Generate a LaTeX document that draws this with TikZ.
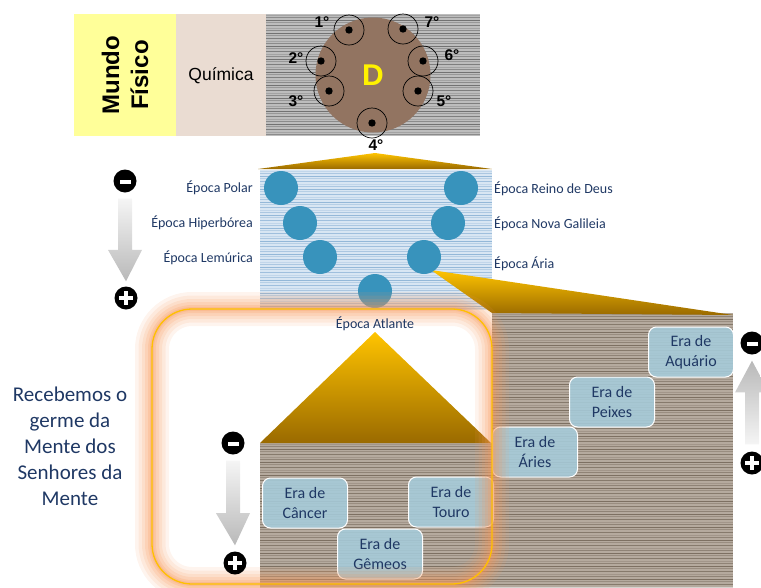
\documentclass[tikz,border=0pt]{standalone}
\usepackage{fontspec}
\setmainfont{Carlito}
\newfontfamily\arialfont{Liberation Sans}
\usetikzlibrary{
  calc,
  positioning
}

\definecolor{navy}{HTML}{1F3864}
\definecolor{epocablue}{HTML}{3893BC}
\definecolor{erafill}{HTML}{A6CCDB}
\definecolor{mundoyellow}{HTML}{FFFF99}
\definecolor{quimicabg}{HTML}{EADCD2}
\definecolor{dbrown}{HTML}{927461}
\definecolor{goldtop}{HTML}{FFC400}
\definecolor{goldbot}{HTML}{9A6A00}
\definecolor{glow}{HTML}{F7985A}
\definecolor{glowline}{HTML}{FFC000}
\definecolor{graybase}{HTML}{BDBDBD}
\definecolor{grayline}{HTML}{6A6A6A}
\definecolor{bluebase}{HTML}{D8E6F3}
\definecolor{blueline}{HTML}{8DB3D6}
\definecolor{brownbase}{HTML}{B5AA9E}
\definecolor{brownline}{HTML}{776A5C}

% striped panel: x1 y1 x2 y2 base line
\newcommand\listras[6]{%
  \fill[#5] (#1,#2) rectangle (#3,#4);
  \begin{scope}
    \clip (#1,#2) rectangle (#3,#4);
    \foreach \i [evaluate=\i as \op using {0.3+0.15*mod(\i*7,5)}] in {0,...,110}
      \draw[#6, line width=1pt, opacity=\op] (#1,{#2+1+2.6*\i}) -- (#3,{#2+1+2.6*\i});
  \end{scope}}

% block arrow from one sign to the other
\newcommand\setabloco[3][]{%
  \path[#1] let \p1=(#2), \p2=(#3), \n1={\y1+0.62*(\y2-\y1)} in
    ({\x1-7pt},\y1) -- ({\x1+7pt},\y1) -- ({\x1+7pt},{\n1*1pt})
    -- ({\x1+17pt},{\n1*1pt}) -- (\x2,\y2) -- ({\x1-17pt},{\n1*1pt})
    -- ({\x1-7pt},{\n1*1pt}) -- cycle;}

\tikzset{
  epoca/.style = {circle, fill=epocablue, minimum size=34pt, inner sep=0pt},
  epocalabel/.style = {text=navy, font=\fontsize{14}{16}\selectfont, inner sep=0pt},
  era/.style = {rounded corners=8pt, fill=erafill, fill opacity=.88, text opacity=1,
    draw=white, line width=1pt, minimum width=85pt, minimum height=50pt,
    align=center, text=navy, font=\fontsize{16}{20}\selectfont},
  grau/.style = {circle, draw=black, line width=.7pt, minimum size=30pt, inner sep=0pt},
  grautext/.style = {font=\arialfont\bfseries\fontsize{15.5}{15}\selectfont, inner sep=0pt},
  sinal/.style = {circle, fill=black, minimum size=23pt, inner sep=0pt},
  sinalmenos/.style = {sinal, path picture={
    \fill[white] ([xshift=-5.5pt,yshift=-3pt]path picture bounding box.center)
      rectangle ([xshift=5.5pt,yshift=1pt]path picture bounding box.center);}},
  sinalmais/.style = {sinal, path picture={
    \fill[white] ([xshift=-7pt,yshift=-2pt]path picture bounding box.center)
      rectangle ([xshift=7pt,yshift=2pt]path picture bounding box.center);
    \fill[white] ([xshift=-2pt,yshift=-7pt]path picture bounding box.center)
      rectangle ([xshift=2pt,yshift=7pt]path picture bounding box.center);}},
  ouro/.style = {top color=goldtop, bottom color=goldbot},
  setadesce/.style = {top color=gray!8, bottom color=gray!55},
  setasobe/.style = {top color=gray!55, bottom color=gray!8}
}

\begin{document}
\begin{tikzpicture}[x=1pt, y=-1pt]
  \useasboundingbox (0,0) rectangle (761,587);

  % mundo fisico band
  \fill[mundoyellow] (74,14) rectangle (176,136);
  \fill[quimicabg] (176,14) rectangle (266,136);
  \listras{266}{14}{480}{136}{graybase}{grayline}
  \node[rotate=90, align=center, font=\arialfont\bfseries\fontsize{24}{29}\selectfont]
    (mundo) at (125,75) {Mundo\\Físico};
  \node[font=\arialfont\fontsize{17.5}{20}\selectfont] (quimica) at (221,76) {Química};

  \node[circle, fill=dbrown, minimum size=115pt, inner sep=0pt, text=yellow,
    font=\arialfont\bfseries\fontsize{30}{30}\selectfont] (dcirculo) at (373,75) {D};

  \foreach \n/\gx/\gy/\lx/\ly in {1/349/30/322/22, 2/321/61/296/58, 3/329/91/296/101,
      4/372/123/376/145, 5/418/91/444/101, 6/423/61/452/55, 7/403/29/432/22} {
    \node[grau] (g\n) at (\gx,\gy) {};
    \fill (g\n) circle (3.7);
    \node[grautext] (lg\n) at (\lx,\ly) {\n°};
  }

  % funnel from the 4th
  \shade[ouro] (375,153) -- (492,169) -- (258,169) -- cycle;

  % eras panel behind
  \listras{492}{313}{733}{587}{brownbase}{brownline}

  % epocas
  \listras{260}{170}{492}{310}{bluebase}{blueline}
  \shade[ouro] (431,270) -- (733,315) -- (492,313) -- cycle;

  \node[epoca] (polar) at (281,188) {};
  \node[epoca] (hiperborea) at (300,223) {};
  \node[epoca] (lemurica) at (320,257) {};
  \node[epoca] (atlante) at (375,291) {};
  \node[epoca] (aria) at (424,257) {};
  \node[epoca] (galileia) at (448,223) {};
  \node[epoca] (reino) at (461,188) {};

  \node[epocalabel, anchor=east] (lpolar) at (253,188) {Época Polar};
  \node[epocalabel, anchor=east] (lhiperborea) at (253,223) {Época Hiperbórea};
  \node[epocalabel, anchor=east] (llemurica) at (253,258) {Época Lemúrica};
  \node[epocalabel, anchor=west] (lreino) at (494,189) {Época Reino de Deus};
  \node[epocalabel, anchor=west] (lgalileia) at (494,224) {Época Nova Galileia};
  \node[epocalabel, anchor=west] (laria) at (494,264) {Época Ária};

  % casa atlante
  \listras{260}{443}{492}{587}{brownbase}{brownline}
  \shade[ouro] (375,332) -- (491,443) -- (260,443) -- cycle;

  \node[era] (cancer) at (305,503) {Era de\\Câncer};
  \node[era] (gemeos) at (380,554) {Era de\\Gêmeos};
  \node[era] (touro) at (451,502) {Era de\\Touro};
  \node[era] (aries) at (535,452) {Era de\\Áries};
  \node[era] (peixes) at (612,402) {Era de\\Peixes};
  \node[era] (aquario) at (691,352) {Era de\\Aquário};

  % glow
  \foreach \w/\o in {34/.1, 27/.12, 20/.14, 14/.17, 8/.2, 4/.25}
    \draw[glow, line width=\w pt, opacity=\o, rounded corners=40pt] (152,309) rectangle (492,584);
  \draw[glowline, line width=1.3pt, rounded corners=40pt] (152,309) rectangle (492,584);

  \node[epocalabel, below=8pt of atlante] (latlante) {Época Atlante};

  % signs and arrows
  \node[sinalmenos] (m1) at (125,181) {};
  \node[sinalmais] (p1) at (126,298) {};
  \setabloco[setadesce]{$(m1.south)+(0,6)$}{$(p1.north)+(0,-5)$}

  \node[sinalmenos] (m2) at (233,443) {};
  \node[sinalmais] (p2) at (235,563) {};
  \setabloco[setadesce]{$(m2.south)+(0,6)$}{$(p2.north)+(0,-6)$}

  \node[sinalmenos] (m3) at (752,343) {};
  \node[sinalmais] (p3) at (752,463) {};
  \setabloco[setasobe]{$(p3.north)+(0,-7)$}{$(m3.south)+(0,6)$}

  \node[align=center, text=navy, font=\fontsize{21}{26}\selectfont]
    (recebemos) at (70,446) {Recebemos o\\germe da\\Mente dos\\Senhores da\\Mente};
\end{tikzpicture}
\end{document}
